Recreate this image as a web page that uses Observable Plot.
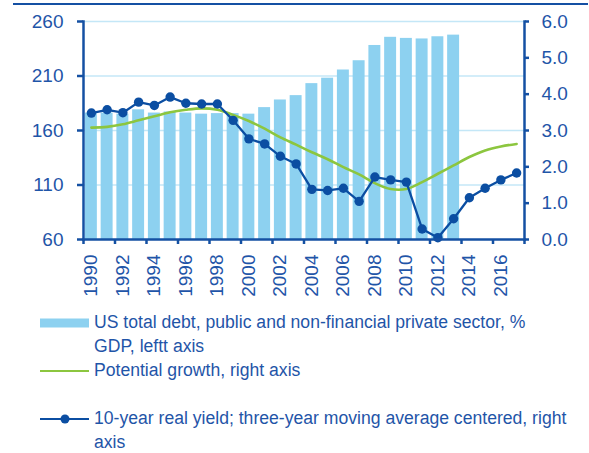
<!DOCTYPE html>
<html>
<head>
<meta charset="utf-8">
<script src="https://cdn.jsdelivr.net/npm/d3@7"></script>
<script src="https://cdn.jsdelivr.net/npm/@observablehq/plot@0.6"></script>
<style>
  body { margin: 0; background: #fff; font-family: "Liberation Sans", Arial, sans-serif; }
  #wrap { position: relative; width: 589px; height: 453px; overflow: hidden; }
  #topline { position: absolute; left: 13px; top: 3px; width: 575px; height: 2px; background: #1450a3; }
  #chart { position: absolute; left: 0; top: 0; }
  .lg { position: absolute; left: 0; width: 589px; font-size: 17.6px; line-height: 23.5px; color: #1f55a8; white-space: nowrap; }
  .lg svg { position: absolute; left: 40px; top: 0; }
  .lg .t { position: absolute; left: 94px; top: 0; }
</style>
</head>
<body>
<div id="wrap">
  <div id="chart"></div>
  <div id="topline"></div>
  <div class="lg" style="top:311px">
    <svg width="49" height="24"><rect x="0" y="7.5" width="49" height="9" fill="#8dd1f0"></rect></svg>
    <div class="t">US total debt, public and non-financial private sector, %<br>GDP, leftt axis</div>
  </div>
  <div class="lg" style="top:358.5px">
    <svg width="49" height="24"><line x1="0" x2="49" y1="12" y2="12" stroke="#8cc63f" stroke-width="2.2"></line></svg>
    <div class="t">Potential growth, right axis</div>
  </div>
  <div class="lg" style="top:407px">
    <svg width="49" height="24"><line x1="0" x2="49" y1="12" y2="12" stroke="#0b4ea2" stroke-width="2.2"></line><circle cx="25" cy="12" r="4.5" fill="#0b4ea2"></circle></svg>
    <div class="t">10-year real yield; three-year moving average centered, right<br>axis</div>
  </div>
</div>
<script>
// ---- data ----
const years = [1990,1991,1992,1993,1994,1995,1996,1997,1998,1999,2000,2001,2002,2003,2004,2005,2006,2007,2008,2009,2010,2011,2012,2013,2014,2015,2016,2017];
const debtYears = [1990,1991,1992,1993,1994,1995,1996,1997,1998,1999,2000,2001,2002,2003,2004,2005,2006,2007,2008,2009,2010,2011,2012,2013];
const debt = [176,176,175,179,176,177,176,175,175.5,175.5,175,181,188,192,203,208,215.5,224,238,245.5,244.5,244,246,247.5];
const potentialGrowth = [3.08,3.10,3.17,3.28,3.39,3.50,3.57,3.61,3.57,3.43,3.26,3.05,2.81,2.61,2.40,2.21,1.99,1.79,1.55,1.39,1.39,1.58,1.81,2.04,2.27,2.45,2.56,2.63];
const realYield = [3.48,3.57,3.49,3.78,3.69,3.92,3.75,3.73,3.73,3.28,2.77,2.63,2.29,2.08,1.38,1.35,1.41,1.05,1.72,1.64,1.58,0.29,0.05,0.57,1.15,1.41,1.64,1.83];
const leftTicks = [60,110,160,210,260];
const rightTicks = [0,1,2,3,4,5,6];
const xTickLabels = [1990,1992,1994,1996,1998,2000,2002,2004,2006,2008,2010,2012,2014,2016];

// ---- build ----
const blue = "#1450a3", text = "#1f55a8";
const lMin = leftTicks[0], lMax = leftTicks[leftTicks.length-1];
const rMin = rightTicks[0], rMax = rightTicks[rightTicks.length-1];
const toLeft = v => lMin + (v - rMin) / (rMax - rMin) * (lMax - lMin);
const fromLeft = v => rMin + (v - lMin) / (lMax - lMin) * (rMax - rMin);

const debtData = debtYears.map((y, i) => ({year: y, debt: debt[i]}));
const growthData = years.map((y, i) => ({year: y, v: potentialGrowth[i]}));
const yieldData = years.map((y, i) => ({year: y, v: realYield[i]}));
const boundaries = xTickLabels.map(y => y - 0.5).concat([years[years.length-1] + 0.5]);

const chart = Plot.plot({
  width: 589,
  height: 305,
  marginLeft: 83,
  marginRight: 65,
  marginTop: 21,
  marginBottom: 66,
  style: {fontFamily: "'Liberation Sans', Arial, sans-serif", fontSize: "19px", color: text, background: "transparent"},
  x: {domain: [years[0] - 0.5, years[years.length-1] + 0.5]},
  y: {domain: [lMin, lMax]},
  marks: [
    Plot.gridY({ticks: leftTicks.slice(1), stroke: "#c4e7f7", strokeOpacity: 1, strokeWidth: 1.3}),
    Plot.rectY(debtData, {x1: d => d.year - 0.5, x2: d => d.year + 0.5, y1: lMin, y2: "debt", insetLeft: 1.9, insetRight: 1.9, fill: "#8dd1f0"}),
    Plot.line(growthData, {x: "year", y: d => toLeft(d.v), curve: "catmull-rom", stroke: "#8cc63f", strokeWidth: 2.6}),
    Plot.line(yieldData, {x: "year", y: d => toLeft(d.v), stroke: "#0b4ea2", strokeWidth: 2.3}),
    Plot.dot(yieldData, {x: "year", y: d => toLeft(d.v), r: 4.7, fill: "#0b4ea2"}),
    Plot.frame({anchor: "left", stroke: blue, strokeWidth: 2.5}),
    Plot.frame({anchor: "right", stroke: blue, strokeWidth: 2.5}),
    Plot.frame({anchor: "bottom", stroke: blue, strokeWidth: 2.5}),
    Plot.axisY({ticks: leftTicks, tickSize: 6, tickPadding: 14, stroke: blue, strokeWidth: 2.5, fill: text, label: null}),
    Plot.axisY({anchor: "right", ticks: rightTicks.map(toLeft), tickFormat: d => fromLeft(d).toFixed(1), tickSize: 4, tickPadding: 13, stroke: blue, strokeWidth: 2.5, fill: text, label: null}),
    Plot.axisX({ticks: boundaries, tickFormat: () => "", tickSize: 5, stroke: blue, strokeWidth: 2.5, label: null}),
    Plot.axisX({ticks: xTickLabels, tickFormat: d => String(d), tickRotate: -90, tickSize: 0, tickPadding: 15, fill: text, label: null})
  ]
});
document.getElementById("chart").appendChild(chart);
</script>
</body>
</html>
